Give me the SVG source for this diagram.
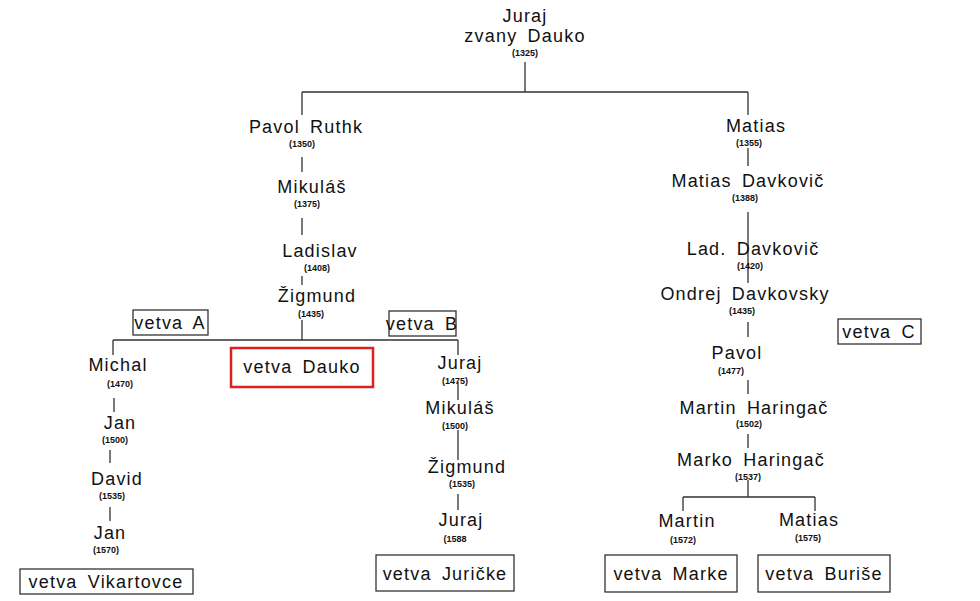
<svg xmlns="http://www.w3.org/2000/svg" width="980" height="601" viewBox="0 0 980 601">
<style>
text{font-family:"Liberation Sans",Arial,sans-serif;fill:#111;text-anchor:middle}
.n{font-size:18px;letter-spacing:1.2px;word-spacing:4px}
.y{font-size:9px;font-weight:bold}
.b{fill:#fff;stroke:#333;stroke-width:1.3}
.l{stroke:#333;stroke-width:1.3;fill:none}
</style>
<rect width="980" height="601" fill="#fff"/>
<g id="connectors" class="l">
<path d="M525 62V92M302 92H748M302 92V115M748 92V115"/>
<path d="M302 157V172M302 218V235M302 276V285M302 320V340M113 340H458M113 340V355M458 340V355"/>
<path d="M114 398V412M110 450V463M110 507V521"/>
<path d="M458 382V400M458 430V460M458 494V510"/>
<path d="M748 148V166M748 212V283M748 322V337M748 380V394M748 434V448M748 480V497M683 497H815M683 497V511M815 497V511"/>
</g>
<g id="n-juraj"><text class="n" x="525" y="22">Juraj</text><text class="n" x="525" y="42">zvany Dauko</text><text class="y" x="525" y="56">(1325)</text></g>
<g id="n-pavol-ruthk"><text class="n" x="306" y="133">Pavol Ruthk</text><text class="y" x="302" y="147">(1350)</text></g>
<g id="n-mikulas1"><text class="n" x="312" y="193">Mikuláš</text><text class="y" x="307" y="207">(1375)</text></g>
<g id="n-ladislav"><text class="n" x="320" y="257">Ladislav</text><text class="y" x="317" y="271">(1408)</text></g>
<g id="n-zigmund1"><text class="n" x="317" y="302">Žigmund</text><text class="y" x="311" y="317">(1435)</text></g>
<g id="n-vetva-a"><rect class="b" x="133" y="310" width="75" height="25"/><text class="n" x="170" y="329">vetva A</text></g>
<g id="n-vetva-b"><rect class="b" x="389" y="311" width="67" height="25"/><text class="n" x="422" y="330">vetva B</text></g>
<g id="n-vetva-dauko"><rect x="231" y="348" width="142" height="39" fill="#fff" stroke="#e02020" stroke-width="2.5"/><text class="n" x="302" y="373">vetva Dauko</text></g>
<g id="n-michal"><text class="n" x="118" y="371">Michal</text><text class="y" x="120" y="387">(1470)</text></g>
<g id="n-jan1"><text class="n" x="120" y="429">Jan</text><text class="y" x="115" y="443">(1500)</text></g>
<g id="n-david"><text class="n" x="117" y="485">David</text><text class="y" x="112" y="499">(1535)</text></g>
<g id="n-jan2"><text class="n" x="110" y="539">Jan</text><text class="y" x="106" y="553">(1570)</text></g>
<g id="n-vikartovce"><rect class="b" x="20" y="569" width="173" height="25"/><text class="n" x="106" y="588">vetva Vikartovce</text></g>
<g id="n-juraj2"><text class="n" x="460" y="369">Juraj</text><text class="y" x="455" y="384">(1475)</text></g>
<g id="n-mikulas2"><text class="n" x="460" y="414">Mikuláš</text><text class="y" x="455" y="429">(1500)</text></g>
<g id="n-zigmund2"><text class="n" x="467" y="473">Žigmund</text><text class="y" x="462" y="487">(1535)</text></g>
<g id="n-juraj3"><text class="n" x="461" y="526">Juraj</text><text class="y" x="455" y="542">(1588</text></g>
<g id="n-juricke"><rect class="b" x="376" y="555" width="138" height="36"/><text class="n" x="445" y="580">vetva Juričke</text></g>
<g id="n-matias1"><text class="n" x="756" y="132">Matias</text><text class="y" x="749" y="146">(1355)</text></g>
<g id="n-matias-d"><text class="n" x="748" y="187">Matias Davkovič</text><text class="y" x="745" y="201">(1388)</text></g>
<g id="n-lad-d"><text class="n" x="753" y="255">Lad. Davkovič</text><text class="y" x="750" y="269">(1420)</text></g>
<g id="n-ondrej"><text class="n" x="745" y="300">Ondrej Davkovsky</text><text class="y" x="742" y="314">(1435)</text></g>
<g id="n-vetva-c"><rect class="b" x="838" y="319" width="83" height="25"/><text class="n" x="879" y="338">vetva C</text></g>
<g id="n-pavol2"><text class="n" x="737" y="359">Pavol</text><text class="y" x="731" y="374">(1477)</text></g>
<g id="n-martin-h"><text class="n" x="754" y="414">Martin Haringač</text><text class="y" x="749" y="427">(1502)</text></g>
<g id="n-marko-h"><text class="n" x="751" y="466">Marko Haringač</text><text class="y" x="748" y="480">(1537)</text></g>
<g id="n-martin"><text class="n" x="687" y="527">Martin</text><text class="y" x="683" y="543">(1572)</text></g>
<g id="n-matias2"><text class="n" x="809" y="526">Matias</text><text class="y" x="808" y="541">(1575)</text></g>
<g id="n-marke"><rect class="b" x="605" y="555" width="132" height="37"/><text class="n" x="671" y="580">vetva Marke</text></g>
<g id="n-burise"><rect class="b" x="758" y="555" width="132" height="37"/><text class="n" x="824" y="580">vetva Buriše</text></g>
</svg>
